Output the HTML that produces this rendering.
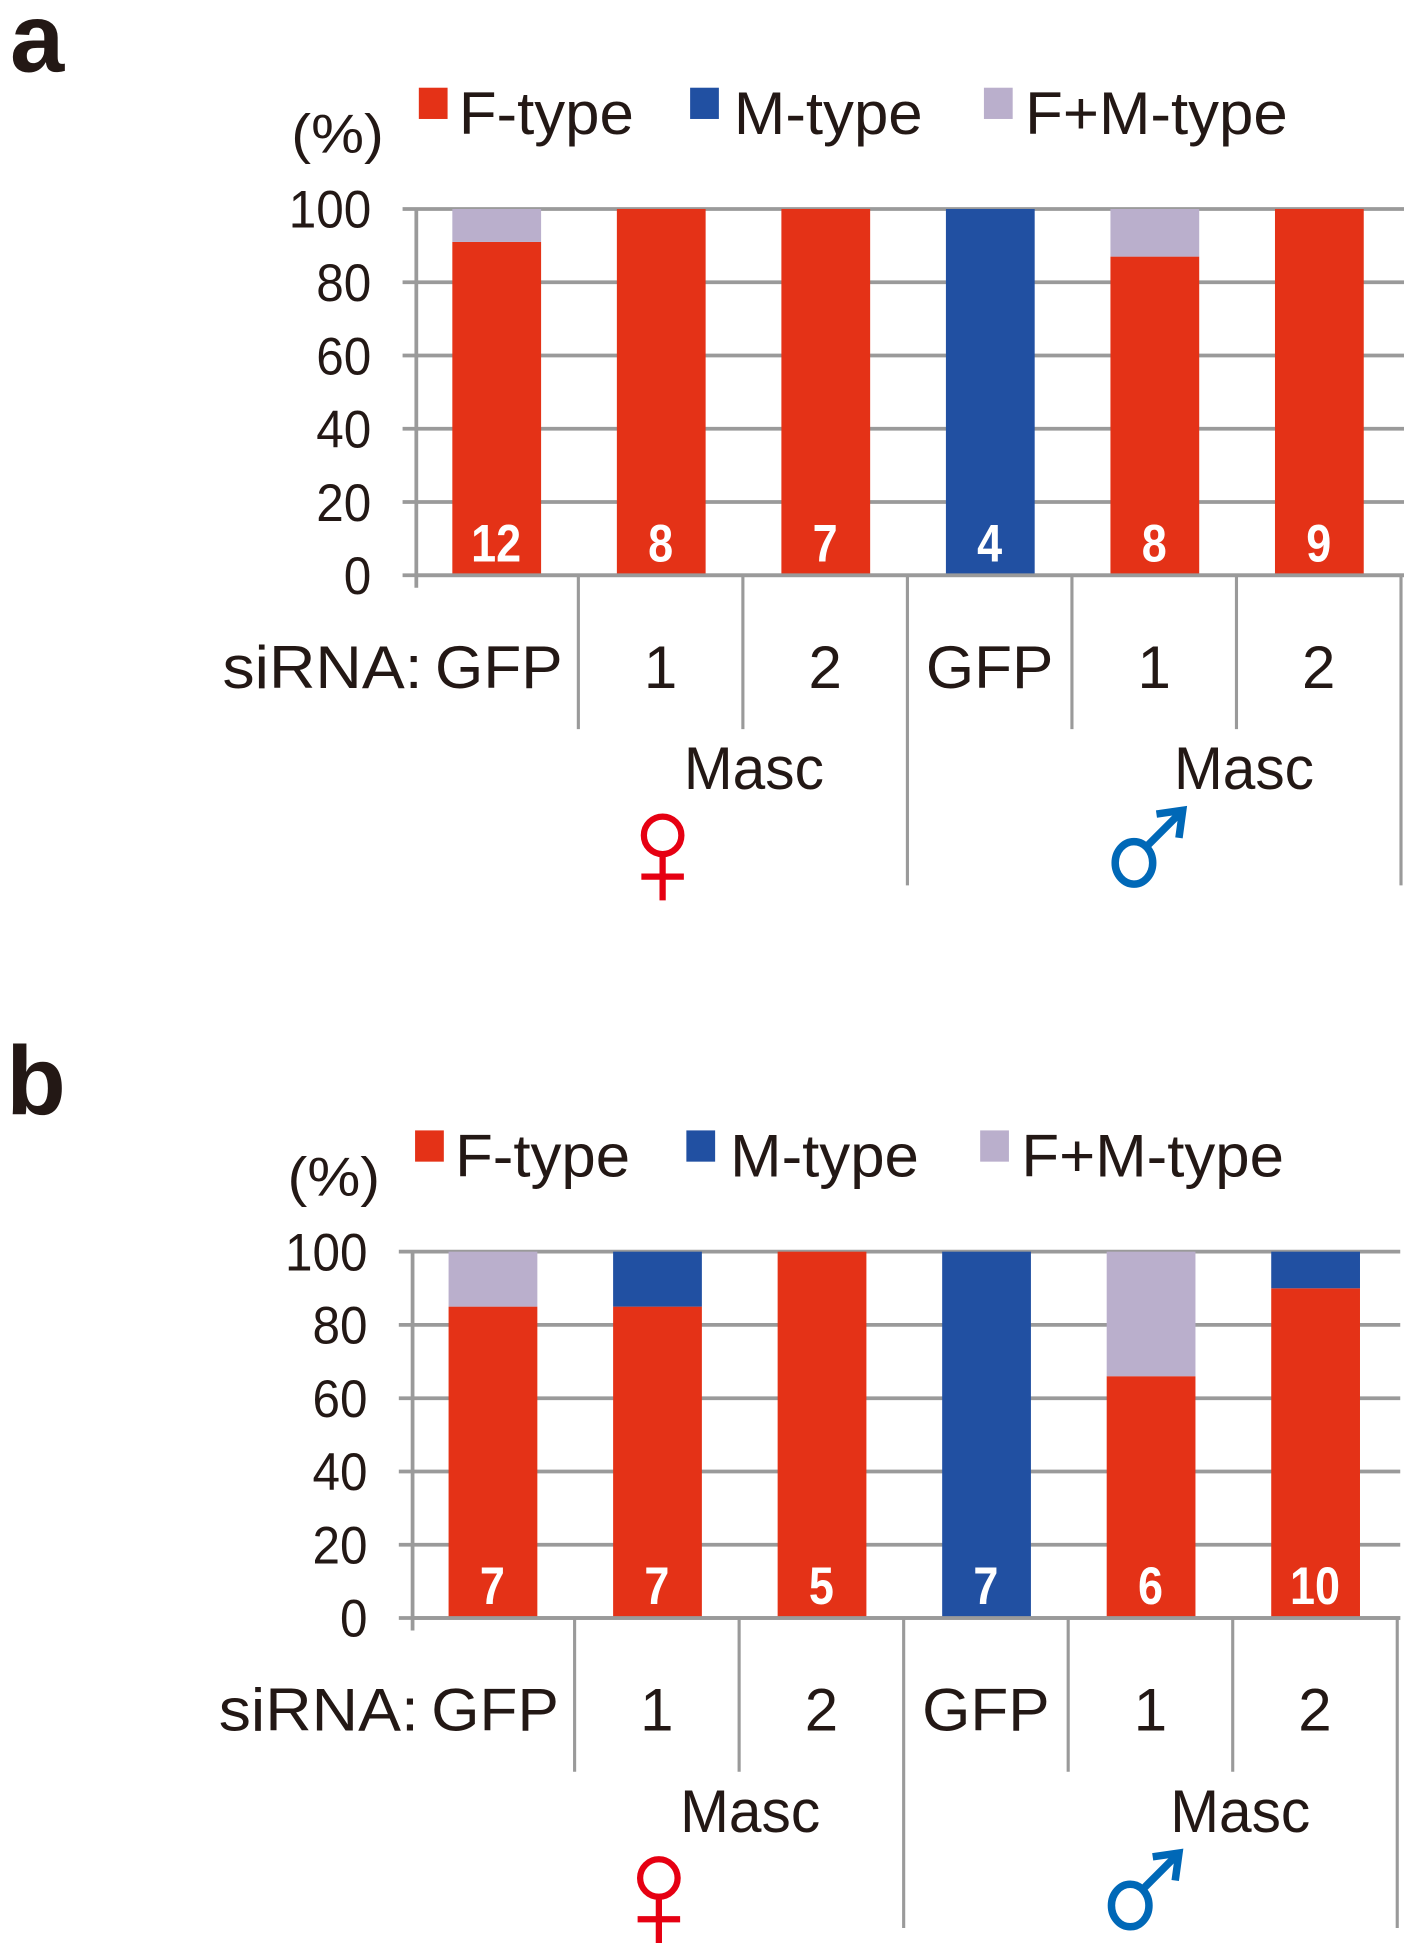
<!DOCTYPE html>
<html><head><meta charset="utf-8"><style>
html,body{margin:0;padding:0;background:#fff}
svg{display:block}
text{font-family:"Liberation Sans",Arial,sans-serif}
</style></head><body>
<svg id="fig" xmlns="http://www.w3.org/2000/svg" width="1414" height="1957" viewBox="0 0 1131 1565"></svg>
<script>
const categories = ["GFP","1","2","GFP","1","2"];
const ticks = [0,20,40,60,80,100];
const aF = [91,100,100,0,87,100];
const aM = [0,0,0,100,0,0];
const aFM = [9,0,0,0,13,0];
const aN = ["12","8","7","4","8","9"];
const bF = [85,85,100,0,66,90];
const bM = [0,15,0,100,0,10];
const bFM = [15,0,0,0,34,0];
const bN = ["7","7","5","7","6","10"];

const NS="http://www.w3.org/2000/svg";
const svg=document.getElementById('fig');
const RED="#e43217",BLUE="#2150a2",LIL="#baafcc",GRID="#9a9a9a";
function mk(tag,attrs,parent){const e=document.createElementNS(NS,tag);for(const k in attrs)e.setAttribute(k,attrs[k]);(parent||svg).appendChild(e);return e;}
function txt(s,attrs,parent){const e=mk('text',attrs,parent);e.textContent=s;return e;}

function panel(id,letter,dy,dx,F,M,FM,N){
  const g=mk('g',{transform:`translate(${dx},${dy})`});
  
  
  const y0=460,y100=167,axX=333,catW=131.6;
  const y=v=>y0-(v/100)*(y0-y100);
  const cx=i=>axX+catW*(i+0.5)-2;
  const lt=txt(letter,{x:8,y:57,'font-size':78,'font-weight':'bold',fill:'#231815'},g);
  
  
  const leg=[["F-type",RED,335,367,140],["M-type",BLUE,552,587,151],["F+M-type",LIL,787,820,210]];
  leg.forEach(l=>{
    const r=mk('rect',{x:l[2],y:70,width:23,height:25,fill:l[1]},g);
    
    
    const t=txt(l[0],{x:l[3],y:107,'font-size':48,fill:'#231815',textLength:l[4],lengthAdjust:'spacingAndGlyphs'},g);
    
    
  });
  const u=txt("(%)",{x:233,y:122,'font-size':44,fill:'#231815',textLength:74,lengthAdjust:'spacingAndGlyphs'},g);
  
  
  ticks.forEach(t=>{
    const ln=mk('line',{x1:322,x2:1123,y1:y(t),y2:y(t),stroke:GRID,'stroke-width':3},g);
    
    
    const s=String(t);
    const tl=txt(s,{x:297,y:y(t)+15,'font-size':42,'text-anchor':'end',fill:'#231815',textLength:s.length*22,lengthAdjust:'spacingAndGlyphs'},g);
    
    
  });
  const ax=mk('line',{x1:axX,x2:axX,y1:y100,y2:y0+10,stroke:GRID,'stroke-width':3},g);
  
  
  categories.forEach((c,i)=>{
    const x=cx(i)-35,w=71;
    let base=0;
    [[F[i],RED,'f'],[M[i],BLUE,'m'],[FM[i],LIL,'fm']].forEach(s=>{
      if(s[0]<=0)return;
      const r=mk('rect',{x:x,y:y(base+s[0]),width:w,height:y(base)-y(base+s[0]),fill:s[1]},g);
      
      
      base+=s[0];
    });
    const nt=txt(N[i],{x:cx(i),y:449,'font-size':42,'font-weight':'bold','text-anchor':'middle',fill:'#fff',textLength:N[i].length*20,lengthAdjust:'spacingAndGlyphs'},g);
    
    
    const bx=axX+catW*(i+1)-2;
    const long=(i==2||i==5);
    const d=mk('line',{x1:bx,x2:bx,y1:y0,y2:long?708:583,stroke:GRID,'stroke-width':2.5},g);
    
    
    const attrs={x:i==0?450:cx(i),y:550,'font-size':48,'text-anchor':i==0?'end':'middle',fill:'#231815'};
    if(c==="GFP"){attrs.textLength=102;attrs.lengthAdjust='spacingAndGlyphs';}
    const cl=txt(c,attrs,g);
    
    
  });
  const base=mk('line',{x1:axX,x2:1123,y1:y0,y2:y0,stroke:GRID,'stroke-width':3},g);
  
  
  const sl=txt("siRNA:",{x:178,y:550,'font-size':48,fill:'#231815',textLength:160,lengthAdjust:'spacingAndGlyphs'},g);
  
  
  [[603,'masc-label-female'],[995,'masc-label-male']].forEach(m=>{
    const t=txt("Masc",{x:m[0],y:631,'font-size':48,'text-anchor':'middle',fill:'#231815',textLength:112,lengthAdjust:'spacingAndGlyphs'},g);
    
    
  });
  const fs=mk('g',{},g);
  
  
  mk('circle',{cx:530,cy:668,r:15,fill:'none',stroke:'#e60012','stroke-width':5},fs);
  mk('line',{x1:530,x2:530,y1:683,y2:720,stroke:'#e60012','stroke-width':5},fs);
  mk('line',{x1:513,x2:547,y1:701,y2:701,stroke:'#e60012','stroke-width':5},fs);
  const ms=mk('g',{},g);
  
  
  mk('ellipse',{cx:907,cy:690,rx:15,ry:17,fill:'none',stroke:'#0068b7','stroke-width':6},ms);
  mk('line',{x1:918,x2:943,y1:676,y2:651,stroke:'#0068b7','stroke-width':6},ms);
  mk('polyline',{points:'925,651 946,648 943,670',fill:'none',stroke:'#0068b7','stroke-width':6},ms);
}
panel('a','a',0,0,aF,aM,aFM,aN);
panel('b','b',834,-3,bF,bM,bFM,bN);
</script>
</body></html>
